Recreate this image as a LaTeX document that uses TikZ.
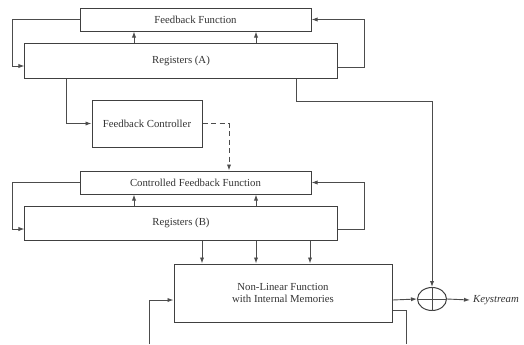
\documentclass[tikz,border=0pt]{standalone}
\usepackage{fontspec}
\setmainfont{Liberation Serif}
\usetikzlibrary{arrows.meta,calc,shapes.geometric}
\begin{document}
\begin{tikzpicture}[x=1bp,y=-1bp,
  font=\fontsize{10.8}{12}\selectfont,
  box/.style={draw=black!75,line width=1bp,inner sep=0pt,text=black!80,align=center},
  ln/.style={draw=black!70,line width=0.9bp},
  arr/.style={ln,-{Latex[length=6bp,width=4.2bp]}},
  dsh/.style={arr,dash pattern=on 5bp off 3.5bp}]
\useasboundingbox (0,0) rectangle (524,344);
% boxes
\node[box,minimum width=231bp,minimum height=23bp] (FF) at (195.5,19.5) {Feedback Function};
\node[box,minimum width=312bp,minimum height=35bp] (RA) at (181,60.5) {Registers (A)};
\node[box,minimum width=110bp,minimum height=47bp] (FC) at (147,123.5) {Feedback Controller};
\node[box,minimum width=231bp,minimum height=23bp] (CFF) at (195.5,182.5) {Controlled Feedback Function};
\node[box,minimum width=312bp,minimum height=34bp] (RB) at (181,223) {Registers (B)};
\node[box,minimum width=218bp,minimum height=58bp] (NLF) at (283,293) {Non-Linear Function\\with Internal Memories};
\node[draw=black!75,line width=1bp,ellipse,minimum width=29bp,minimum height=23bp,inner sep=0pt] (X) at (432,299) {};
\draw[ln] (X.north) -- (X.south) (X.west) -- (X.east);
\node[anchor=west,inner sep=0pt,text=black!80] (K) at (473,300) {\itshape Keystream};
% column / row coordinates
\coordinate (cA) at (134,0);
\coordinate (cB) at (256,0);
\coordinate (lA) at (12,66);
\coordinate (rA) at (364,67);
\coordinate (lB) at (12,229);
\coordinate (rB) at (364,229);
\coordinate (fcIn) at (66,123);
\coordinate (dT) at (229,123);
\coordinate (xA) at (296,101);
\coordinate (n1) at (202,0);
\coordinate (n2) at (256,0);
\coordinate (n3) at (310,0);
\coordinate (inL) at (149,344);
\coordinate (inLy) at (0,300);
\coordinate (outR) at (406,310);
\coordinate (outRb) at (406,344);
\coordinate (xIn) at (0,300);
% top group
\draw[arr] (FF.west) -| (lA) -- (lA -| RA.west);
\draw[arr] (RA.north -| cA) -- (FF.south -| cA);
\draw[arr] (RA.north -| cB) -- (FF.south -| cB);
\draw[arr] (RA.east |- rA) -| (rA |- FF.east) -- (FF.east);
\draw[arr] (RA.south -| fcIn) |- (FC.west);
\draw[dsh] (FC.east) -| (CFF.north -| dT);
\draw[arr] (RA.south -| xA) |- (X.north |- xA) -- (X.north);
% bottom group
\draw[arr] (CFF.west) -| (lB) -- (lB -| RB.west);
\draw[arr] (RB.north -| cA) -- (CFF.south -| cA);
\draw[arr] (RB.north -| cB) -- (CFF.south -| cB);
\draw[arr] (RB.east |- rB) -| (rB |- CFF.east) -- (CFF.east);
\draw[arr] (RB.south -| n1) -- (NLF.north -| n1);
\draw[arr] (RB.south -| n2) -- (NLF.north -| n2);
\draw[arr] (RB.south -| n3) -- (NLF.north -| n3);
\draw[arr] (inL) |- (NLF.west |- inLy);
\draw[ln] (NLF.east |- outR) -| (outRb);
\draw[arr] (NLF.east |- xIn) -- (X.west);
\draw[arr] (X.east) -- ([xshift=-3bp]K.west);
\end{tikzpicture}
\end{document}
